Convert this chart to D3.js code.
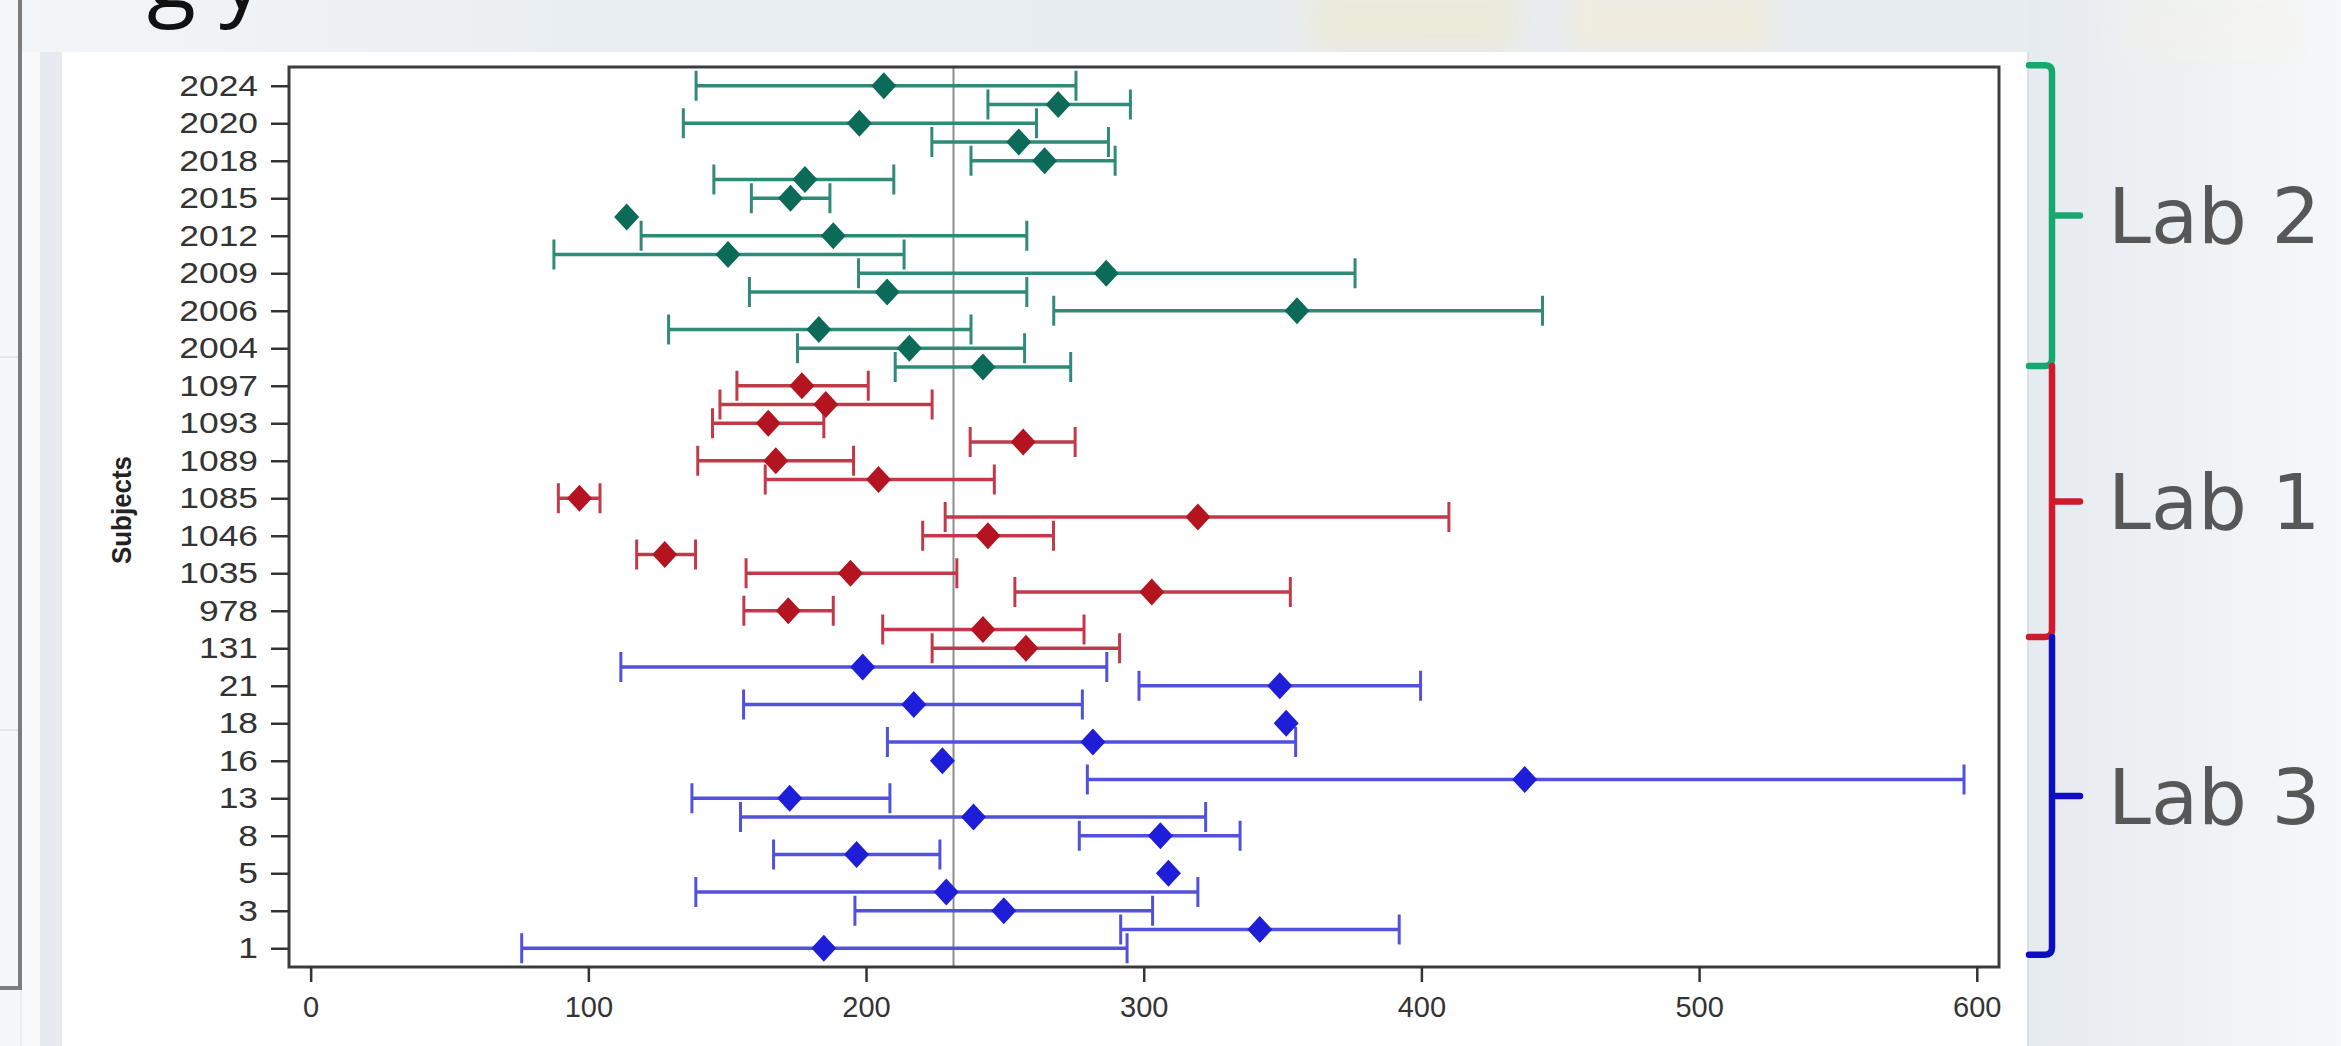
<!DOCTYPE html>
<html><head><meta charset="utf-8">
<script src="https://cdn.jsdelivr.net/npm/d3@7"></script>
<style>
html,body{margin:0;padding:0;background:#e8edf1;overflow:hidden}
svg{display:block}
</style></head><body>
<svg id="chart" width="2341" height="1046"></svg>
<script>
// ---------------- DATA ----------------
const tickLabels = ["2024","2020","2018","2015","2012","2009","2006","2004",
  "1097","1093","1089","1085","1046","1035","978","131",
  "21","18","16","13","8","5","3","1"];
const labOfRow = [
  "Lab 2","Lab 2","Lab 2","Lab 2","Lab 2","Lab 2","Lab 2","Lab 2","Lab 2","Lab 2","Lab 2","Lab 2","Lab 2","Lab 2","Lab 2","Lab 2",
  "Lab 1","Lab 1","Lab 1","Lab 1","Lab 1","Lab 1","Lab 1","Lab 1","Lab 1","Lab 1","Lab 1","Lab 1","Lab 1","Lab 1","Lab 1",
  "Lab 3","Lab 3","Lab 3","Lab 3","Lab 3","Lab 3","Lab 3","Lab 3","Lab 3","Lab 3","Lab 3","Lab 3","Lab 3","Lab 3","Lab 3","Lab 3"];
const estimates = [
  206.4,269.2,197.6,255.0,264.3,178.0,172.8,113.8,188.2,150.3,286.5,207.6,355.2,183.0,215.6,242.1,
  176.9,185.5,164.8,256.6,167.5,204.5,96.8,319.5,243.9,127.5,194.4,302.9,172.0,242.1,257.6,
  198.8,349.0,217.2,351.3,281.7,227.5,437.2,172.5,238.7,306.0,196.6,308.9,228.9,249.6,341.8,184.8];
const lowerCI = [
  138.8,243.9,134.2,223.7,237.8,145.2,158.7,null,119.0,87.6,197.3,158.0,267.6,128.9,175.3,210.5,
  153.5,147.4,144.7,237.5,139.4,163.7,89.2,228.5,220.4,117.4,156.8,253.6,156.0,206.0,223.8,
  111.7,298.3,155.9,null,207.7,null,279.7,137.3,154.8,276.8,166.7,null,138.7,196.0,291.7,76.0];
const upperCI = [
  275.6,295.2,261.4,287.3,289.7,210.0,187.0,null,257.9,213.7,376.1,257.9,443.6,237.8,257.1,273.7,
  200.8,223.8,184.8,275.3,195.5,246.2,104.2,409.9,267.5,138.6,232.7,352.8,188.2,278.5,291.3,
  286.7,399.7,277.9,null,354.7,null,595.4,208.6,322.3,334.7,226.6,null,319.5,303.2,392.0,294.0];
const xTicks = [0,100,200,300,400,500,600];
const referenceValue = 231.5;
const labNames = ["Lab 2","Lab 1","Lab 3"];
const labSpanStart = [-1.1, 14.95, 29.4];   // row-index extents of the side braces
const labSpanEnd   = [14.95, 29.4, 46.35];
const markerColors = {"Lab 2":"#0b6a58","Lab 1":"#b3141f","Lab 3":"#1e1ed8"};
const lineColors   = {"Lab 2":"#2f8a77","Lab 1":"#c23a4a","Lab 3":"#5151dc"};
const braceColors  = {"Lab 2":"#16a86f","Lab 1":"#d01a2c","Lab 3":"#0d0dc4"};

// ---------------- LAYOUT ----------------
const W = 2341, H = 1046;
const plot = {left:289, right:1999, top:67, bottom:967};
const svg = d3.select("#chart");

// backgrounds
const defs = svg.append("defs");
const gr = defs.append("linearGradient").attr("id","rightBg").attr("x1","0").attr("x2","1");
gr.append("stop").attr("offset","0").attr("stop-color","#e6ebf0");
gr.append("stop").attr("offset","0.55").attr("stop-color","#eef2f5");
gr.append("stop").attr("offset","1").attr("stop-color","#f6f8fa");
const gt = defs.append("linearGradient").attr("id","topBg").attr("x1","0").attr("x2","1");
gt.append("stop").attr("offset","0").attr("stop-color","#f3f6f8");
gt.append("stop").attr("offset","0.25").attr("stop-color","#e9eef2");
gt.append("stop").attr("offset","1").attr("stop-color","#e7ecf0");
const blur = defs.append("filter").attr("id","soft").attr("x","-30%").attr("y","-30%").attr("width","160%").attr("height","160%");
blur.append("feGaussianBlur").attr("stdDeviation","14");

svg.append("rect").attr("width",W).attr("height",H).attr("fill","#e8edf1");
svg.append("rect").attr("x",0).attr("y",0).attr("width",W).attr("height",52).attr("fill","url(#topBg)");
svg.append("rect").attr("x",2028).attr("y",0).attr("width",W-2028).attr("height",H).attr("fill","url(#rightBg)");
// faint watermark tint
svg.append("rect").attr("x",1310).attr("y",-10).attr("width",210).attr("height",62).attr("fill","#ece8c6").attr("opacity",0.55).attr("filter","url(#soft)");
svg.append("rect").attr("x",1570).attr("y",-10).attr("width",200).attr("height",62).attr("fill","#f8eed0").attr("opacity",0.55).attr("filter","url(#soft)");
svg.append("rect").attr("x",2120).attr("y",0).attr("width",180).attr("height",60).attr("fill","#f7f3e4").attr("opacity",0.4).attr("filter","url(#soft)");
// left strip
svg.append("rect").attr("x",0).attr("y",0).attr("width",20).attr("height",H).attr("fill","#f5f7f9");
svg.append("rect").attr("x",22).attr("y",52).attr("width",18).attr("height",H-52).attr("fill","#f7f9fb");
svg.append("rect").attr("x",40).attr("y",52).attr("width",22).attr("height",H-52).attr("fill","#e4eaf0");
svg.append("line").attr("x1",0).attr("x2",18).attr("y1",357).attr("y2",357).attr("stroke","#e2e6ea").attr("stroke-width",2);
svg.append("line").attr("x1",0).attr("x2",18).attr("y1",730).attr("y2",730).attr("stroke","#e2e6ea").attr("stroke-width",2);
svg.append("path").attr("d","M20,0 V988 H0").attr("fill","none").attr("stroke","#7d7d7d").attr("stroke-width",4);
// white panel
svg.append("rect").attr("x",62).attr("y",52).attr("width",2028-62).attr("height",H-52).attr("fill","#ffffff");
svg.append("line").attr("x1",2028).attr("x2",2028).attr("y1",52).attr("y2",H).attr("stroke","#d4d9de").attr("stroke-width",1.5);

// partial title descenders at top
svg.append("text").attr("x",147).attr("y",8).attr("font-family","'Open Sans', 'DejaVu Sans', sans-serif")
  .attr("font-size",90).attr("fill","#111").text("g y");

// ---------------- SCALES ----------------
const x = d3.scaleLinear().domain([-7.8, 608]).range([plot.left, plot.right]);
const y = d3.scaleLinear().domain([-1, 47]).range([plot.top, plot.bottom]);

svg.append("rect").attr("x",plot.left).attr("y",plot.top)
  .attr("width",plot.right-plot.left).attr("height",plot.bottom-plot.top)
  .attr("fill","#ffffff");

// reference line
svg.append("line").attr("x1",x(referenceValue)).attr("x2",x(referenceValue))
  .attr("y1",plot.top).attr("y2",plot.bottom)
  .attr("stroke","#8c8c8c").attr("stroke-width",2);

// ---------------- MARKS ----------------
const rows = estimates.map((v,i)=>({i, est:v, lo:lowerCI[i], hi:upperCI[i], lab:labOfRow[i]}));
const withCI = rows.filter(d=>d.lo!=null && d.hi!=null);
const capHalf = 15;
const gBars = svg.append("g");
gBars.selectAll("line.bar").data(withCI).join("line").attr("class","bar")
  .attr("x1",d=>x(d.lo)).attr("x2",d=>x(d.hi)).attr("y1",d=>y(d.i)).attr("y2",d=>y(d.i))
  .attr("stroke",d=>lineColors[d.lab]).attr("stroke-width",3.5);
gBars.selectAll("line.capl").data(withCI).join("line").attr("class","capl")
  .attr("x1",d=>x(d.lo)).attr("x2",d=>x(d.lo)).attr("y1",d=>y(d.i)-capHalf).attr("y2",d=>y(d.i)+capHalf)
  .attr("stroke",d=>lineColors[d.lab]).attr("stroke-width",3);
gBars.selectAll("line.capr").data(withCI).join("line").attr("class","capr")
  .attr("x1",d=>x(d.hi)).attr("x2",d=>x(d.hi)).attr("y1",d=>y(d.i)-capHalf).attr("y2",d=>y(d.i)+capHalf)
  .attr("stroke",d=>lineColors[d.lab]).attr("stroke-width",3);

const dp = d3.path(); dp.moveTo(0,-13.5); dp.lineTo(12.5,0); dp.lineTo(0,13.5); dp.lineTo(-12.5,0); dp.closePath();
svg.append("g").selectAll("path").data(rows).join("path")
  .attr("d",dp.toString())
  .attr("transform",d=>`translate(${x(d.est)},${y(d.i)})`)
  .attr("fill",d=>markerColors[d.lab]);

// frame
svg.append("rect").attr("x",plot.left).attr("y",plot.top)
  .attr("width",plot.right-plot.left).attr("height",plot.bottom-plot.top)
  .attr("fill","none").attr("stroke","#3c3c3c").attr("stroke-width",3);

// ---------------- AXES ----------------
const yAxis = d3.axisLeft(y).tickValues(d3.range(0,47,2)).tickFormat(i=>tickLabels[i/2])
  .tickSize(18).tickPadding(13);
const gy = svg.append("g").attr("transform",`translate(${plot.left},0)`).call(yAxis);
gy.select(".domain").remove();
gy.selectAll(".tick line").attr("stroke","#333").attr("stroke-width",2.5);
gy.selectAll(".tick text").attr("font-family","'Liberation Sans', Arial, sans-serif")
  .attr("font-size",30).attr("fill","#333")
  .attr("transform","translate(-31,0) scale(1.18,1) translate(31,0)");

const xAxis = d3.axisBottom(x).tickValues(xTicks).tickFormat(d3.format("d")).tickSize(15).tickPadding(14);
const gx = svg.append("g").attr("transform",`translate(0,${plot.bottom})`).call(xAxis);
gx.select(".domain").remove();
gx.selectAll(".tick line").attr("stroke","#333").attr("stroke-width",2.5);
gx.selectAll(".tick text").attr("font-family","'Liberation Sans', Arial, sans-serif")
  .attr("font-size",29).attr("fill","#333");

svg.append("text").attr("transform",`translate(131,510) rotate(-90)`)
  .attr("text-anchor","middle").attr("font-family","'Liberation Sans', Arial, sans-serif")
  .attr("font-weight","bold").attr("font-size",28).attr("fill","#222")
  .attr("textLength",108).attr("lengthAdjust","spacingAndGlyphs").text("Subjects");

// ---------------- BRACES ----------------
const bx = 2052, hookX = 2029, notchX = 2080;
labNames.forEach((name,k)=>{
  const y0 = y(labSpanStart[k]), y1 = y(labSpanEnd[k]), ym = (y0+y1)/2;
  const p = d3.path();
  if (k===0){ p.moveTo(hookX, y0); p.lineTo(bx-7, y0); p.quadraticCurveTo(bx, y0, bx, y0+7); }
  else { p.moveTo(bx, y0); }
  p.lineTo(bx, y1-7); p.quadraticCurveTo(bx, y1, bx-7, y1); p.lineTo(hookX, y1);
  p.moveTo(bx, ym); p.lineTo(notchX, ym);
  svg.append("path").attr("d",p.toString()).attr("fill","none")
    .attr("stroke",braceColors[name]).attr("stroke-width",6.5).attr("stroke-linecap","round");
  svg.append("text").attr("x",2108).attr("y",ym).attr("dy","0.36em")
    .attr("font-family","'DejaVu Sans', Verdana, sans-serif").attr("font-size",77)
    .attr("fill","#575757").text(name);
});
</script>
</body></html>
